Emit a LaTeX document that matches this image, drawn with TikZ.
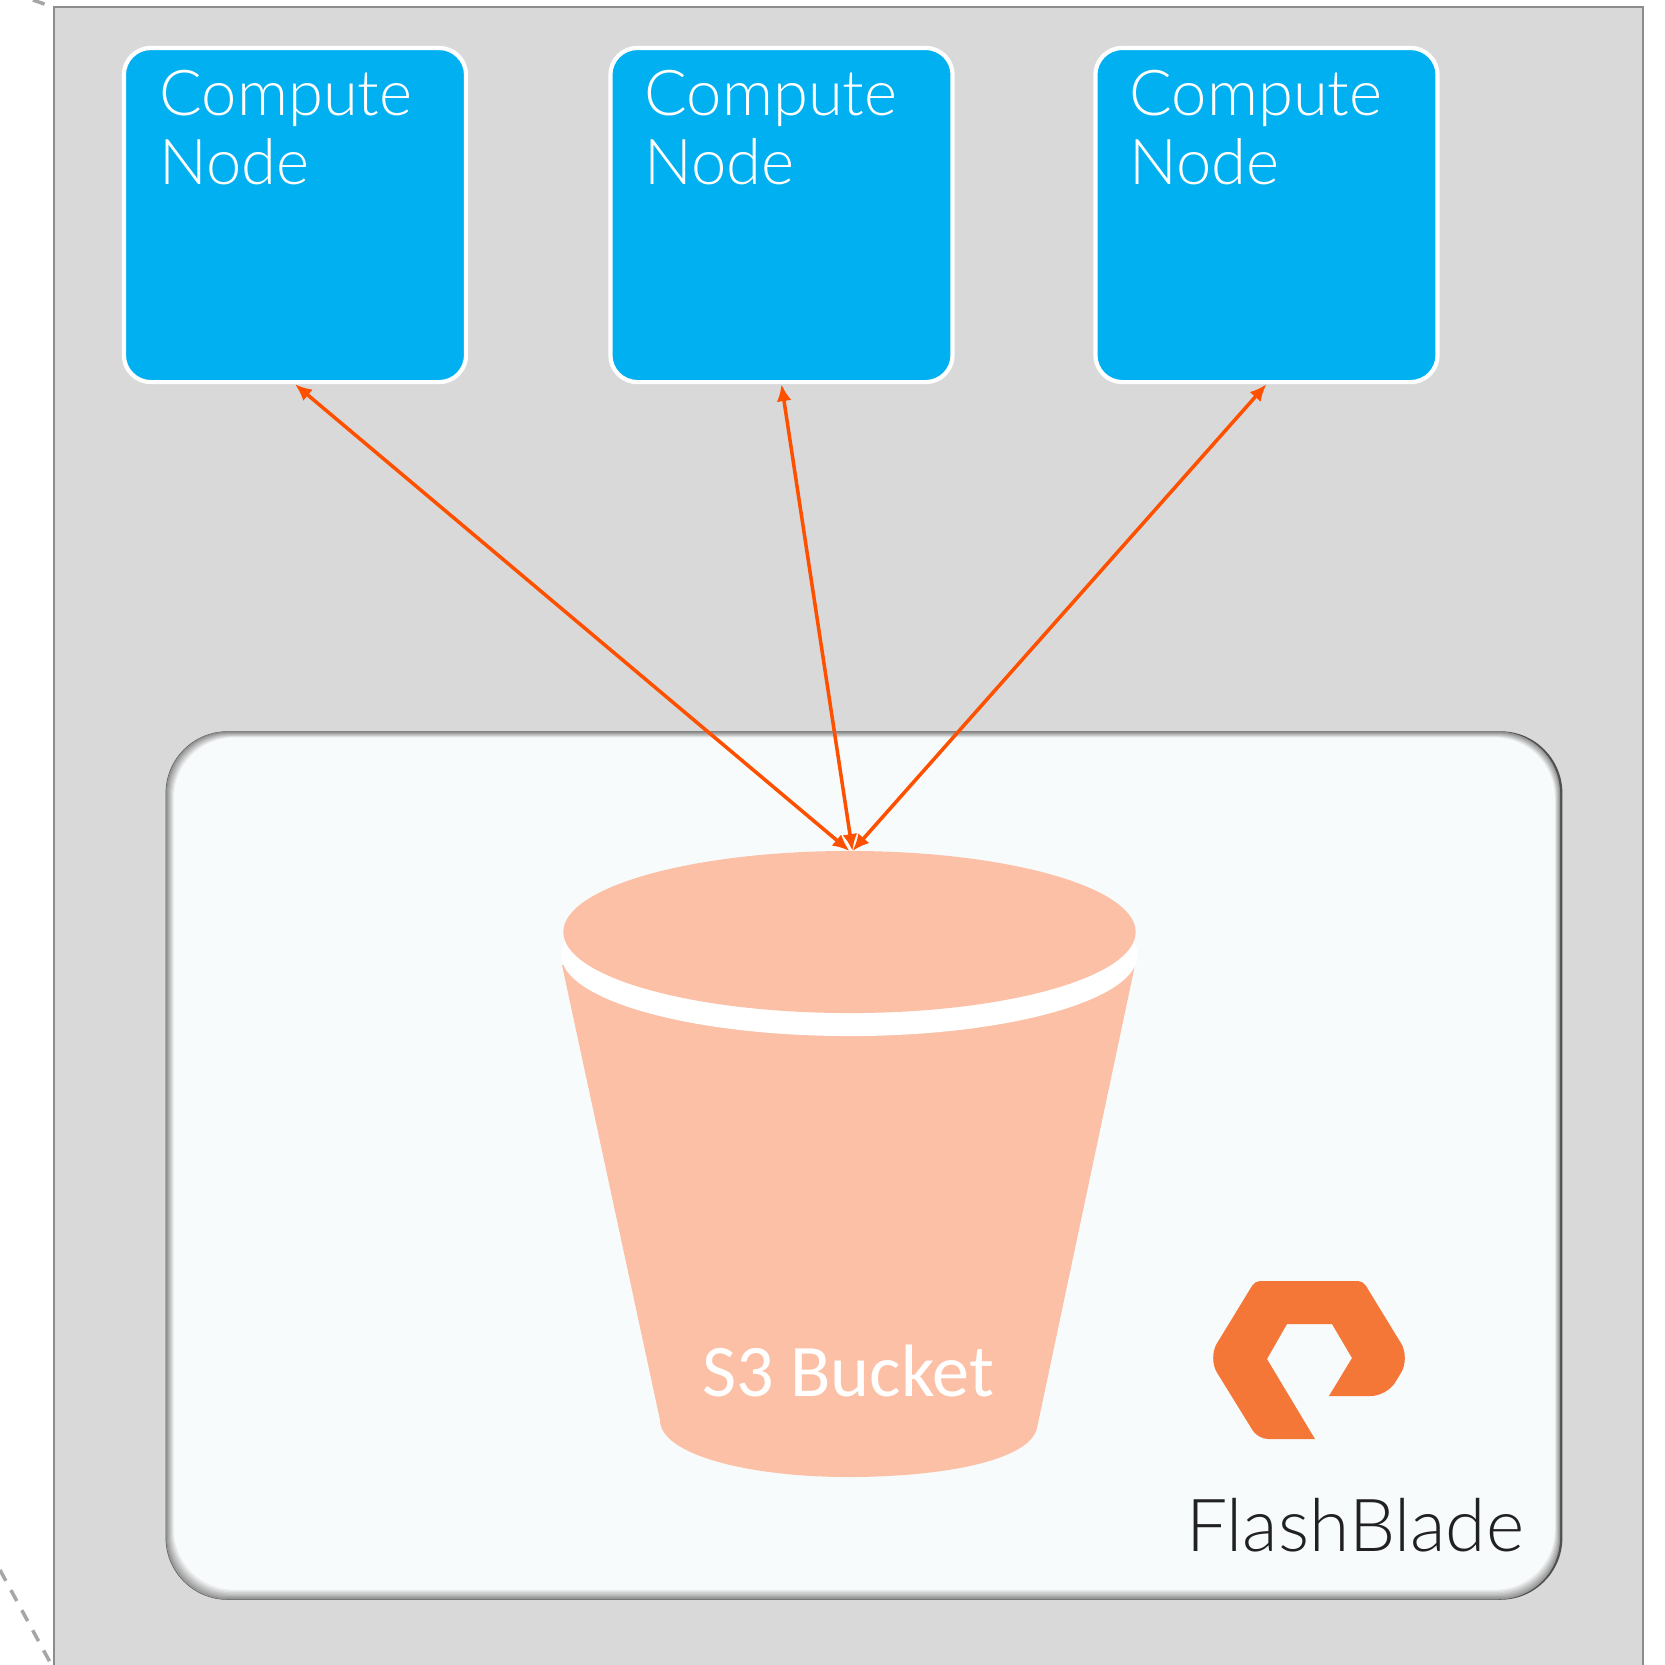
\documentclass[tikz,border=0pt]{standalone}
\usepackage{fontspec}
\usetikzlibrary{arrows.meta,shapes.geometric}
\setmainfont{Lato Light}
\newfontfamily\bucketfont{Carlito}
\definecolor{outergray}{HTML}{D9D9D9}
\definecolor{edgegray}{HTML}{8C8C8C}
\definecolor{edgedark}{HTML}{505050}
\definecolor{computeblue}{HTML}{00B0F0}
\definecolor{panelwhite}{HTML}{F8FBFC}
\definecolor{bucketpeach}{HTML}{FBC0A5}
\definecolor{arroworange}{HTML}{FF5000}
\definecolor{logoorange}{HTML}{F47737}
\begin{document}
\begin{tikzpicture}[
    x=0.01cm, y=-0.01cm,
    computebox/.style={rectangle, draw=white, line width=1.2pt, fill=computeblue, minimum width=3.42cm, minimum height=3.34cm, rounded corners=0.27cm, inner sep=0pt},
    computetext/.style={anchor=north west, inner sep=0pt, text=white, align=left, font=\fontsize{18}{19.8}\selectfont},
    dashline/.style={draw=black!35, line width=1pt, dash pattern=on 3.5pt off 3pt},
    arrow/.style={<->, line width=1pt, draw=arroworange, >={Latex[length=4.8pt,width=4.2pt]}}
]
    \useasboundingbox (0,0) rectangle (1665,1665);

    % Dashed lines outside the frame
    \coordinate (dashA) at (33,0);
    \coordinate (dashB) at (53,7);
    \coordinate (dashC) at (0,1570);
    \coordinate (dashD) at (51,1664);
    \draw[dashline] (dashA) -- (dashB);
    \draw[dashline] (dashC) -- (dashD);

    % Outer frame, open at the bottom
    \fill[outergray] (54,7) rectangle (1643,1665);
    \draw[edgegray, line width=0.75pt] (54,1665) -- (54,7) -- (1643,7) -- (1643,1665);

    % FlashBlade panel with soft edge
    \node[rectangle, fill=edgedark, minimum width=13.96cm, minimum height=8.68cm, rounded corners=0.62cm, inner sep=0pt] (panel) at (864,1165.5) {};
    \fill[edgegray, rounded corners=0.62cm] (166,731.5) rectangle (1560,1599.5);
    \foreach \i in {1,...,8} {
        \pgfmathsetmacro{\mixval}{100*\i/8}
        \fill[panelwhite!\mixval!edgegray, rounded corners=0.6cm]
            (166+\i*1.0,732+\i*0.7) rectangle (1561-\i*0.7-0.6,1600-\i*1.3);
    }

    % Compute nodes
    \node[computebox] (compute1) at (295,215) {};
    \node[computebox] (compute2) at (781.5,215) {};
    \node[computebox] (compute3) at (1266.5,215) {};
    \node[computetext] (text1) at (159,69) {Compute\\Node};
    \node[computetext] (text2) at (644,69) {Compute\\Node};
    \node[computetext] (text3) at (1129,69) {Compute\\Node};

    % Bucket
    \fill[bucketpeach] (562,965) -- (660,1420) .. controls (660,1455) and (750,1477) .. (848,1477)
        .. controls (945,1477) and (1030,1460) .. (1037,1428) -- (1135,965) -- cycle;
    \node[ellipse, fill=white, minimum width=5.76cm, minimum height=1.62cm, inner sep=0pt] (rim) at (849.5,955) {};
    \node[ellipse, fill=bucketpeach, minimum width=5.72cm, minimum height=1.62cm, inner sep=0pt, outer sep=0pt] (lid) at (849.5,932) {};
    \node[text=white, inner sep=0pt, anchor=base, font=\bucketfont\fontsize{21.1}{24}\selectfont] (bucketlabel) at (848,1396) {S3 Bucket};

    % Logo
    \fill[logoorange] (1329,1396) [rounded corners=0.16cm] -- (1387,1396) [rounded corners=0.17cm] -- (1410,1358) [rounded corners=0.05cm] -- (1363,1281) -- (1255,1281) [rounded corners=0.17cm] -- (1208,1358) [rounded corners=0.1cm] -- (1258,1439)
        [sharp corners] -- (1315,1439) -- (1267,1359) -- (1287,1324) -- (1332,1324) -- (1352,1358) -- cycle;
    \node[text=black!87, inner sep=0pt, anchor=base east, font=\fontsize{20.8}{24}\selectfont] (flashblade) at (1525,1551) {FlashBlade};

    % Arrows between compute nodes and bucket
    \draw[arrow] (compute1.south) -- (lid.north);
    \draw[arrow] (compute2.south) -- ([xshift=0.03cm]lid.north);
    \draw[arrow] (compute3.south) -- ([xshift=0.03cm]lid.north);
\end{tikzpicture}
\end{document}
